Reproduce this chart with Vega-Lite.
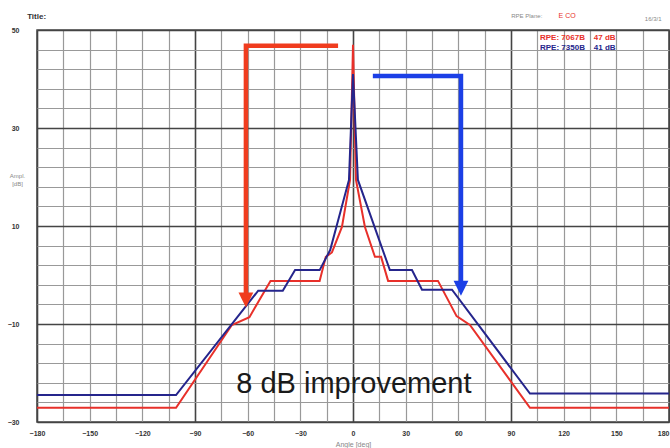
{
  "$schema": "https://vega.github.io/schema/vega-lite/v6.json",
  "width": 632,
  "height": 392,
  "autosize": {"type": "none"},
  "padding": {"left": 37, "top": 30, "right": 1, "bottom": 26},
  "background": "white",
  "config": {
    "view": {"stroke": "#4a4a4a", "strokeWidth": 1.5},
    "font": "Liberation Sans"
  },
  "title": {"text": "Title:", "anchor": "start", "dx": 20, "fontSize": 8, "fontWeight": "bold", "color": "#333", "offset": -9},
  "datasets": {
    "curves": [
      {"series": "RPE: 7067B\u00a0\u00a0\u00a0\u00a047 dB", "o": 1, "x": -180, "y": -27.1},
      {"series": "RPE: 7067B\u00a0\u00a0\u00a0\u00a047 dB", "o": 2, "x": -100.8, "y": -27.1},
      {"series": "RPE: 7067B\u00a0\u00a0\u00a0\u00a047 dB", "o": 3, "x": -69, "y": -10.2},
      {"series": "RPE: 7067B\u00a0\u00a0\u00a0\u00a047 dB", "o": 4, "x": -59, "y": -8.6},
      {"series": "RPE: 7067B\u00a0\u00a0\u00a0\u00a047 dB", "o": 5, "x": -47, "y": -1.2},
      {"series": "RPE: 7067B\u00a0\u00a0\u00a0\u00a047 dB", "o": 6, "x": -19, "y": -1.2},
      {"series": "RPE: 7067B\u00a0\u00a0\u00a0\u00a047 dB", "o": 7, "x": -15.5, "y": 3.7},
      {"series": "RPE: 7067B\u00a0\u00a0\u00a0\u00a047 dB", "o": 8, "x": -12, "y": 4.6},
      {"series": "RPE: 7067B\u00a0\u00a0\u00a0\u00a047 dB", "o": 9, "x": -6.3, "y": 9.8},
      {"series": "RPE: 7067B\u00a0\u00a0\u00a0\u00a047 dB", "o": 10, "x": -1.7, "y": 19.4},
      {"series": "RPE: 7067B\u00a0\u00a0\u00a0\u00a047 dB", "o": 11, "x": 0, "y": 47},
      {"series": "RPE: 7067B\u00a0\u00a0\u00a0\u00a047 dB", "o": 12, "x": 1.7, "y": 19.4},
      {"series": "RPE: 7067B\u00a0\u00a0\u00a0\u00a047 dB", "o": 13, "x": 6.8, "y": 9.8},
      {"series": "RPE: 7067B\u00a0\u00a0\u00a0\u00a047 dB", "o": 14, "x": 12.5, "y": 3.7},
      {"series": "RPE: 7067B\u00a0\u00a0\u00a0\u00a047 dB", "o": 15, "x": 16, "y": 3.7},
      {"series": "RPE: 7067B\u00a0\u00a0\u00a0\u00a047 dB", "o": 16, "x": 20, "y": -1.2},
      {"series": "RPE: 7067B\u00a0\u00a0\u00a0\u00a047 dB", "o": 17, "x": 48.4, "y": -1.2},
      {"series": "RPE: 7067B\u00a0\u00a0\u00a0\u00a047 dB", "o": 18, "x": 59, "y": -8.4},
      {"series": "RPE: 7067B\u00a0\u00a0\u00a0\u00a047 dB", "o": 19, "x": 66.6, "y": -10.2},
      {"series": "RPE: 7067B\u00a0\u00a0\u00a0\u00a047 dB", "o": 20, "x": 100.8, "y": -27.1},
      {"series": "RPE: 7067B\u00a0\u00a0\u00a0\u00a047 dB", "o": 21, "x": 180, "y": -27.1},
      {"series": "RPE: 7350B\u00a0\u00a0\u00a0\u00a041 dB", "o": 1, "x": -180, "y": -24.5},
      {"series": "RPE: 7350B\u00a0\u00a0\u00a0\u00a041 dB", "o": 2, "x": -100.8, "y": -24.5},
      {"series": "RPE: 7350B\u00a0\u00a0\u00a0\u00a041 dB", "o": 3, "x": -54, "y": -3.2},
      {"series": "RPE: 7350B\u00a0\u00a0\u00a0\u00a041 dB", "o": 4, "x": -40, "y": -3.2},
      {"series": "RPE: 7350B\u00a0\u00a0\u00a0\u00a041 dB", "o": 5, "x": -33, "y": 1},
      {"series": "RPE: 7350B\u00a0\u00a0\u00a0\u00a041 dB", "o": 6, "x": -19, "y": 1},
      {"series": "RPE: 7350B\u00a0\u00a0\u00a0\u00a041 dB", "o": 7, "x": -13, "y": 5.1},
      {"series": "RPE: 7350B\u00a0\u00a0\u00a0\u00a041 dB", "o": 8, "x": -2.3, "y": 19.4},
      {"series": "RPE: 7350B\u00a0\u00a0\u00a0\u00a041 dB", "o": 9, "x": 0, "y": 41},
      {"series": "RPE: 7350B\u00a0\u00a0\u00a0\u00a041 dB", "o": 10, "x": 2.8, "y": 19.4},
      {"series": "RPE: 7350B\u00a0\u00a0\u00a0\u00a041 dB", "o": 11, "x": 21, "y": 1},
      {"series": "RPE: 7350B\u00a0\u00a0\u00a0\u00a041 dB", "o": 12, "x": 33.6, "y": 1},
      {"series": "RPE: 7350B\u00a0\u00a0\u00a0\u00a041 dB", "o": 13, "x": 39.3, "y": -3},
      {"series": "RPE: 7350B\u00a0\u00a0\u00a0\u00a041 dB", "o": 14, "x": 56.4, "y": -3},
      {"series": "RPE: 7350B\u00a0\u00a0\u00a0\u00a041 dB", "o": 15, "x": 100.8, "y": -24.2},
      {"series": "RPE: 7350B\u00a0\u00a0\u00a0\u00a041 dB", "o": 16, "x": 180, "y": -24.2}
    ],
    "arrows": [
      {"a": "red", "o": 1, "x": -8.5, "y": 46.8},
      {"a": "red", "o": 2, "x": -61, "y": 46.8},
      {"a": "red", "o": 3, "x": -61, "y": -4.5},
      {"a": "blue", "o": 1, "x": 11.3, "y": 40.6},
      {"a": "blue", "o": 2, "x": 61.5, "y": 40.6},
      {"a": "blue", "o": 3, "x": 61.5, "y": -2}
    ],
    "heads": [
      {"a": "red", "x": -61, "y": -5.1},
      {"a": "blue", "x": 61.5, "y": -2.7}
    ],
    "notes": [
      {"t": "8 dB improvement", "x": 0.5, "y": -22.2}
    ],
    "header": [
      {"t": "RPE Plane:", "x": 99, "y": 52.9},
      {"t": "E CO", "x": 122, "y": 52.9},
      {"t": "16/3/1", "x": 171, "y": 52.2}
    ]
  },
  "layer": [
    {
      "data": {"name": "curves"},
      "mark": {"type": "line", "strokeWidth": 2, "clip": true},
      "encoding": {
        "x": {
          "field": "x", "type": "quantitative",
          "scale": {"domain": [-180, 180], "nice": false, "zero": false},
          "axis": {
            "values": [-180, -165, -150, -135, -120, -105, -90, -75, -60, -45, -30, -15, 0, 15, 30, 45, 60, 75, 90, 105, 120, 135, 150, 165, 180],
            "tickCount": 100,
            "labelExpr": "datum.value % 30 === 0 ? datum.label : ''",
            "grid": true,
            "gridColor": {"condition": {"test": "datum.value % 90 === 0", "value": "#444444"}, "value": "#999999"},
            "gridWidth": {"condition": {"test": "datum.value % 90 === 0", "value": 1.6}, "value": 1.2},
            "ticks": false, "domain": false,
            "labelFlush": false,
            "labelOverlap": false,
            "labelAlign": {"condition": {"test": "datum.value === 180", "value": "right"}, "value": "center"},
            "labelFontSize": 7, "labelFontWeight": "bold", "labelColor": "#333", "labelPadding": 7,
            "title": "Angle [deg]", "titleFontSize": 7, "titleColor": "#888", "titleFontWeight": "normal", "titlePadding": 4
          }
        },
        "y": {
          "field": "y", "type": "quantitative",
          "scale": {"domain": [-30, 50], "nice": false, "zero": false},
          "axis": {
            "values": [-30, -26, -22, -18, -14, -10, -6, -2, 2, 6, 10, 14, 18, 22, 26, 30, 34, 38, 42, 46, 50],
            "tickCount": 100,
            "labelExpr": "(datum.value + 30) % 20 === 0 ? datum.label : ''",
            "grid": true,
            "gridColor": {"condition": {"test": "(datum.value + 30) % 20 === 0", "value": "#444444"}, "value": "#999999"},
            "gridWidth": {"condition": {"test": "(datum.value + 30) % 20 === 0", "value": 1.6}, "value": 1.2},
            "ticks": false, "domain": false,
            "labelOverlap": false,
            "labelFontSize": 7, "labelFontWeight": "bold", "labelColor": "#333", "labelPadding": 18,
            "title": ["Ampl.", "[dB]"], "titleAngle": 0, "titleFontSize": 6, "titleColor": "#888", "titleFontWeight": "normal",
            "titleX": -20, "titleY": 145, "titleAlign": "center", "titleBaseline": "middle"
          }
        },
        "color": {
          "field": "series", "type": "nominal",
          "scale": {"domain": ["RPE: 7067B\u00a0\u00a0\u00a0\u00a047 dB", "RPE: 7350B\u00a0\u00a0\u00a0\u00a041 dB"], "range": ["#e8302a", "#25258c"]},
          "legend": {
            "orient": "none", "legendX": 495, "legendY": 4, "title": null,
            "symbolSize": 0, "symbolStrokeWidth": 0, "symbolOpacity": 0,
            "labelFontSize": 8, "labelFontWeight": "bold", "labelOffset": 0, "rowPadding": 2,
            "encode": {"labels": {"update": {"fill": {"signal": "datum.value === 'RPE: 7067B\u00a0\u00a0\u00a0\u00a047 dB' ? '#e8302a' : '#25258c'"}}}}
          }
        },
        "order": {"field": "o", "type": "quantitative"}
      }
    },
    {
      "data": {"name": "arrows"},
      "mark": {"type": "line", "strokeWidth": 4.5, "strokeJoin": "miter", "strokeCap": "butt"},
      "encoding": {
        "x": {"field": "x", "type": "quantitative"},
        "y": {"field": "y", "type": "quantitative"},
        "detail": {"field": "a"},
        "order": {"field": "o", "type": "quantitative"},
        "color": {"condition": {"test": "datum.a === 'red'", "value": "#f03c1e"}, "value": "#1b3fe6"}
      }
    },
    {
      "data": {"name": "heads"},
      "mark": {"type": "point", "shape": "M-1,-1L1,-1L0,1Z", "filled": true, "opacity": 1, "size": 220},
      "encoding": {
        "x": {"field": "x", "type": "quantitative"},
        "y": {"field": "y", "type": "quantitative"},
        "color": {"condition": {"test": "datum.a === 'red'", "value": "#f03c1e"}, "value": "#1b3fe6"}
      }
    },
    {
      "data": {"name": "notes"},
      "mark": {"type": "text", "fontSize": 29, "font": "Liberation Sans", "color": "#1a1a1a", "align": "center", "baseline": "middle"},
      "encoding": {
        "x": {"field": "x", "type": "quantitative"},
        "y": {"field": "y", "type": "quantitative"},
        "text": {"field": "t"}
      }
    },
    {
      "data": {"name": "header"},
      "mark": {"type": "text", "fontSize": 6, "align": "center", "baseline": "middle"},
      "encoding": {
        "x": {"field": "x", "type": "quantitative"},
        "y": {"field": "y", "type": "quantitative"},
        "text": {"field": "t"},
        "color": {"condition": {"test": "datum.t === 'E CO'", "value": "#e8302a"}, "value": "#888"},
        "fontWeight": {"condition": {"test": "datum.t === 'E CO'", "value": "bold"}, "value": "normal"},
        "size": {"condition": {"test": "datum.t === 'E CO'", "value": 7}, "value": 6}
      }
    }
  ]
}
